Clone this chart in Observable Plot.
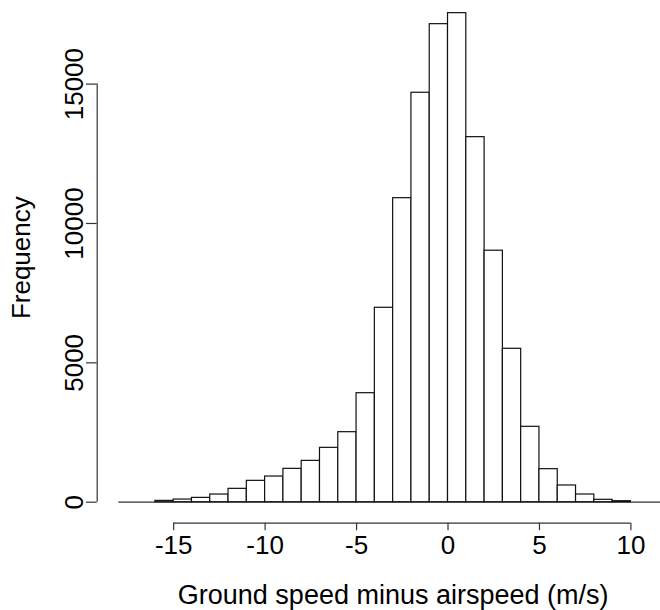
<!DOCTYPE html>
<html>
<head>
<meta charset="utf-8">
<script src="https://cdn.jsdelivr.net/npm/d3@7"></script>
<script src="https://cdn.jsdelivr.net/npm/@observablehq/plot@0.6"></script>
<style>
  html, body { margin: 0; padding: 0; background: #fff; }
  svg { display: block; }
</style>
</head>
<body>
<div id="chart"></div>
<script>
// Histogram bins (left edges, width 1 m/s) and counts
const binStarts = [-18, -17, -16, -15, -14, -13, -12, -11, -10, -9, -8, -7, -6, -5, -4, -3, -2, -1, 0, 1, 2, 3, 4, 5, 6, 7, 8, 9, 10, 11];
const counts    = [0, 0, 48, 95, 155, 275, 479, 766, 921, 1197, 1483, 1950, 2512, 3911, 6975, 10908, 14690, 17151, 17546, 13097, 9023, 5504, 2705, 1185, 600, 276, 86, 36, 0, 0];
const binWidth = 1;
const xTicks = [-15, -10, -5, 0, 5, 10];
const yTicks = [0, 5000, 10000, 15000];
const xLabel = "Ground speed minus airspeed (m/s)";
const yLabel = "Frequency";

const bins = binStarts.map((x0, i) => ({x0, x1: x0 + binWidth, count: counts[i]}));
const nonEmpty = bins.filter(d => d.count > 0);
const xMin = d3.min(binStarts), xMax = d3.max(binStarts) + binWidth;
const yMid = d3.max(counts) / 2;

const font = "Liberation Sans, Arial, sans-serif";
const fs = 26;

const chart = Plot.plot({
  width: 660,
  height: 610,
  marginLeft: 118.3,
  marginRight: 11.3,
  marginTop: 0,
  marginBottom: 108.3,
  style: {fontFamily: font, fontSize: fs + "px", background: "#fff", color: "#000", overflow: "hidden"},
  x: {type: "linear", domain: [-18, 11], label: null},
  y: {type: "linear", domain: [0, 18000], label: null},
  marks: [
    Plot.ruleY([0], {x1: xMin, x2: xMax + 1, stroke: "#333", strokeWidth: 1.2}),
    Plot.rectY(nonEmpty, {x1: "x0", x2: "x1", y: "count", fill: "white", stroke: "#111", strokeWidth: 1.2}),
    // y axis (R style, offset to the left)
    Plot.ruleX([xMin], {y1: yTicks[0], y2: yTicks[yTicks.length - 1], dx: -21.6, stroke: "#333", strokeWidth: 1.2}),
    Plot.axisY({ticks: yTicks, tickSize: 10.7, dx: -21.6, tickFormat: () => "", stroke: "#333", strokeWidth: 1.2, label: null}),
    Plot.text(yTicks, {y: d => d, x: xMin, dx: -36, rotate: -90, textAnchor: "middle", lineAnchor: "bottom", text: d => String(d), fontSize: fs, fill: "#000"}),
    Plot.text([yLabel], {y: yMid, x: xMin, dx: -89, rotate: -90, textAnchor: "middle", lineAnchor: "bottom", fontSize: fs, fill: "#000"}),
    // x axis (R style, offset below)
    Plot.ruleY([0], {x1: xTicks[0], x2: xTicks[xTicks.length - 1], dy: 21, stroke: "#333", strokeWidth: 1.2}),
    Plot.axisX({ticks: xTicks, tickSize: 7.5, dy: 21, tickPadding: 5, tickFormat: d => d < 0 ? "-" + Math.abs(d) : String(d), fontSize: fs, stroke: "#333", strokeWidth: 1.2, label: null}),
    Plot.text([xLabel], {x: -3, frameAnchor: "bottom", dy: 102, textAnchor: "middle", lineAnchor: "bottom", fontSize: 27, fill: "#000"})
  ]
});
document.getElementById("chart").appendChild(chart);
</script>
</body>
</html>
